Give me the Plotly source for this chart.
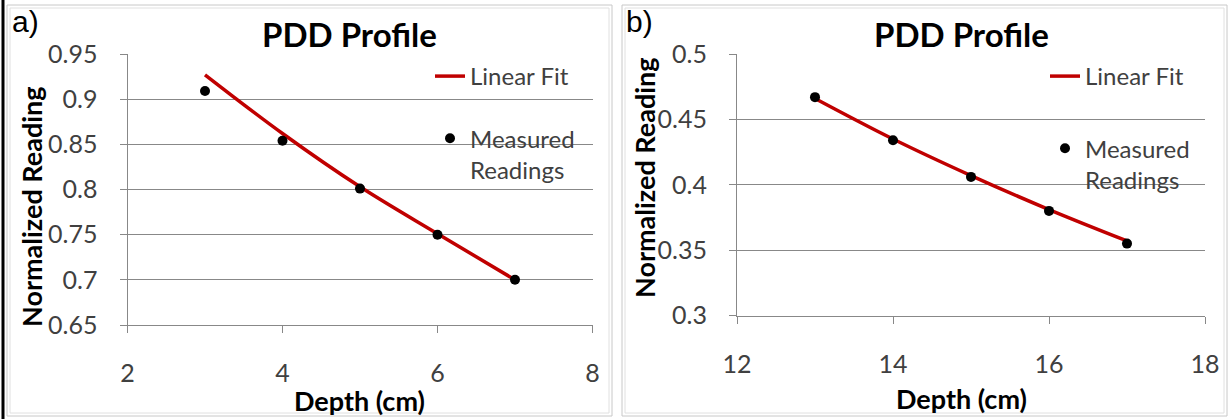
import plotly.graph_objects as go

# ---- data ----
depth_a = [3, 4, 5, 6, 7]
measured_a = [0.909, 0.854, 0.801, 0.750, 0.700]
fit_a = [0.927, 0.862, 0.803, 0.751, 0.700]

depth_b = [13, 14, 15, 16, 17]
measured_b = [0.467, 0.434, 0.406, 0.380, 0.355]
fit_b = [0.466, 0.435, 0.407, 0.381, 0.357]

yticks_a = [0.65, 0.7, 0.75, 0.8, 0.85, 0.9, 0.95]
xticks_a = [2, 4, 6, 8]
yticks_b = [0.3, 0.35, 0.4, 0.45, 0.5]
xticks_b = [12, 14, 16, 18]

W, H = 1229, 419
FONT = "Lato"
RED = "#c00000"
GRID = "#888888"

fig = go.Figure()

# panel a
fig.add_trace(go.Scatter(x=depth_a, y=fit_a, mode="lines", name="Linear Fit",
                         line=dict(color=RED, width=3.5, shape="spline"),
                         xaxis="x", yaxis="y", legend="legend", legendgroup="a1"))
fig.add_trace(go.Scatter(x=depth_a, y=measured_a, mode="markers", name="Measured<br>Readings",
                         marker=dict(color="black", size=10),
                         xaxis="x", yaxis="y", legend="legend", legendgroup="a2"))
# panel b
fig.add_trace(go.Scatter(x=depth_b, y=fit_b, mode="lines", name="Linear Fit",
                         line=dict(color=RED, width=3.5, shape="spline"),
                         xaxis="x2", yaxis="y2", legend="legend2", legendgroup="b1"))
fig.add_trace(go.Scatter(x=depth_b, y=measured_b, mode="markers", name="Measured<br>Readings",
                         marker=dict(color="black", size=10),
                         xaxis="x2", yaxis="y2", legend="legend2", legendgroup="b2"))

def px_x(a, b):
    return [a / W, b / W]

def px_y(top, bottom):
    return [1 - bottom / H, 1 - top / H]

axis_common = dict(showline=True, linecolor=GRID, linewidth=1, ticks="outside",
                   tickcolor=GRID, ticklen=7, tickfont=dict(family=FONT, size=25, color="#404040"),
                   zeroline=False, automargin=False)

fig.update_layout(
    width=W, height=H, margin=dict(l=0, r=0, t=0, b=0, pad=0, autoexpand=False),
    paper_bgcolor="white", plot_bgcolor="white",
    showlegend=True,
    xaxis=dict(domain=px_x(127.5, 592.5), range=[2, 8], tickvals=xticks_a,
               showgrid=False, anchor="y", ticklabelstandoff=19, **axis_common),
    yaxis=dict(domain=px_y(54, 325), range=[0.65, 0.95], tickvals=yticks_a,
               showgrid=True, gridcolor=GRID, gridwidth=1, anchor="x",
               ticklabelstandoff=17, **axis_common),
    xaxis2=dict(domain=px_x(737, 1205), range=[12, 18], tickvals=xticks_b,
                showgrid=False, anchor="y2", ticklabelstandoff=19, **axis_common),
    yaxis2=dict(domain=px_y(54, 315.5), range=[0.3, 0.5], tickvals=yticks_b,
                showgrid=True, gridcolor=GRID, gridwidth=1, anchor="x2",
                ticklabelstandoff=17, **axis_common),
    legend=dict(x=430 / W, y=1 - 54 / H, xanchor="left", yanchor="top",
                bgcolor="rgba(0,0,0,0)", font=dict(family=FONT, size=24, color="#404040"),
                traceorder="grouped", tracegroupgap=28, valign="top"),
    legend2=dict(x=1045 / W, y=1 - 54 / H, xanchor="left", yanchor="top",
                 bgcolor="rgba(0,0,0,0)", font=dict(family=FONT, size=24, color="#404040"),
                 traceorder="grouped", tracegroupgap=38, valign="top"),
)

def ann(text, x, y, size, bold=False, angle=0, family=FONT, color="black"):
    fig.add_annotation(text=f"<b>{text}</b>" if bold else text,
                       x=x / W, y=1 - y / H, xref="paper", yref="paper",
                       showarrow=False, textangle=angle,
                       font=dict(family=family, size=size, color=color),
                       xanchor="center", yanchor="middle")

# titles
ann("PDD Profile", 349, 34, 33, bold=True)
ann("PDD Profile", 961, 34, 33, bold=True)
# axis titles
ann("Depth (cm)", 359, 400, 27, bold=True)
ann("Depth (cm)", 961, 398, 27, bold=True)
ann("Normalized Reading", 32, 207, 27, bold=True, angle=-90)
ann("Normalized Reading", 645, 178, 27, bold=True, angle=-90)
# panel letters
ann("a)", 25, 22, 30, family="Liberation Sans")
ann("b)", 639, 22, 30, family="Liberation Sans")

# panel borders
def rect(x0, y0, x1, y1, color, width=1):
    fig.add_shape(type="rect", xref="paper", yref="paper",
                  x0=x0 / W, x1=x1 / W, y0=1 - y1 / H, y1=1 - y0 / H,
                  line=dict(color=color, width=width), fillcolor="rgba(0,0,0,0)", layer="below")

rect(7, 5, 612, 416, "#c8c8c8")
rect(10, 8, 609, 413, "#e0e0e0")
rect(622, 5, 1227, 416, "#c8c8c8")
rect(625, 8, 1224, 413, "#e0e0e0")
fig.add_shape(type="line", xref="paper", yref="paper", x0=3 / W, x1=3 / W, y0=0, y1=1,
              line=dict(color="black", width=3))

fig.write_html("out.html")
